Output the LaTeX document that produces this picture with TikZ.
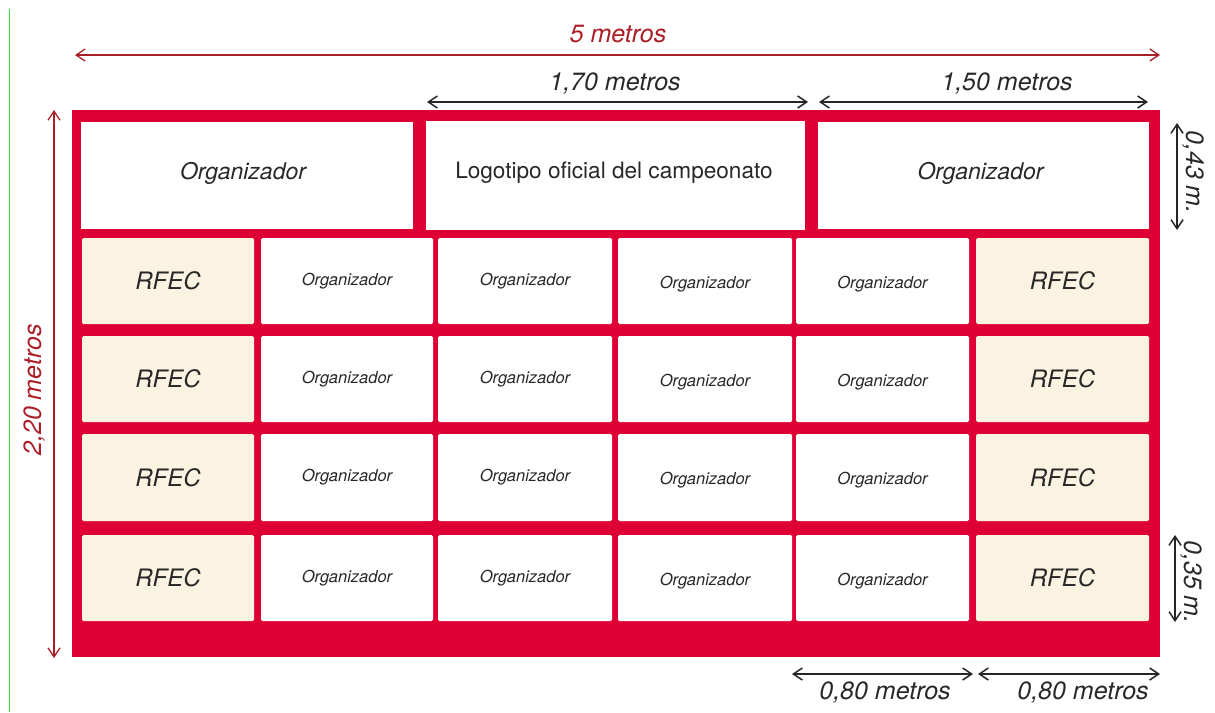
\documentclass[tikz,border=0pt]{standalone}
\usepackage{fontspec}
\setmainfont{TeX Gyre Heros}
\usetikzlibrary{arrows.meta}
\definecolor{framered}{RGB}{222,0,52}
\definecolor{dimred}{RGB}{170,30,40}
\definecolor{cream}{RGB}{251,243,225}
\definecolor{txt}{RGB}{40,40,40}
\definecolor{edgegreen}{RGB}{60,220,60}
\newcommand{\lowtext}[1]{\raisebox{-3pt}[\height][\depth]{#1}}
\tikzset{
  wcell/.style={fill=white, rounded corners=1.5pt, inner sep=0pt, text=txt, font=\fontsize{16.5}{18}\selectfont\itshape},
  rcell/.style={fill=cream, rounded corners=1.5pt, inner sep=0pt, text=txt, font=\fontsize{24}{26}\selectfont\itshape},
  topcell/.style={fill=white, inner sep=0pt, text=txt, font=\fontsize{23}{25}\selectfont\itshape},
  dimblack/.style={draw=black!85, line width=1.5pt, {Straight Barb[length=9pt,width=12pt]}-{Straight Barb[length=9pt,width=12pt]}},
  dimredarrow/.style={draw=dimred, line width=1.3pt, {Straight Barb[length=9pt,width=12pt]}-{Straight Barb[length=9pt,width=12pt]}},
  dimlabel/.style={inner sep=0pt, text=txt, font=\fontsize{25}{27}\selectfont\itshape},
  redlabel/.style={inner sep=0pt, text=dimred, font=\fontsize{25}{27}\selectfont\itshape}
}
\begin{document}
\begin{tikzpicture}[x=1pt,y=-1pt]
\useasboundingbox (0,0) rectangle (1215,712);
\fill[white] (0,0) rectangle (1215,712);
% stray left edge line
\draw[edgegreen, line width=1pt] (9,9) -- (9,712);
% red frame
\fill[framered] (72,110) rectangle (1160,657);
% top row
\node[topcell, minimum width=332pt, minimum height=107pt] (t1) at (247,175.5) {};
\node[topcell] (t1t) at (243,173) {Organizador};
\node[topcell, minimum width=379pt, minimum height=109pt] (t2) at (615.5,175.5) {};
\node[topcell, font=\fontsize{22.6}{25}\selectfont] (t2t) at (614,173) {Logotipo oficial del campeonato};
\node[topcell, minimum width=331pt, minimum height=107pt] (t3) at (983.5,175.5) {};
\node[topcell] (t3t) at (980.5,173) {Organizador};
% grid rows
\foreach \r/\y/\h in {1/281/86, 2/379/86, 3/477.5/87, 4/578/86}{
  \node[rcell, minimum width=172pt, minimum height=\h pt] (c\r1) at (168,\y) {RFEC};
  \node[wcell, minimum width=172pt, minimum height=\h pt] (c\r2) at (347,\y) {Organizador};
  \node[wcell, minimum width=174pt, minimum height=\h pt] (c\r3) at (525,\y) {Organizador};
  \node[wcell, minimum width=174pt, minimum height=\h pt] (c\r4) at (705,\y) {\lowtext{Organizador}};
  \node[wcell, minimum width=173pt, minimum height=\h pt] (c\r5) at (882.5,\y) {\lowtext{Organizador}};
  \node[rcell, minimum width=173pt, minimum height=\h pt] (c\r6) at (1062.5,\y) {RFEC};
}
% dimension coordinates
\coordinate (a5l) at (75,55);
\coordinate (a5r) at (1160,55);
\coordinate (a17l) at (427,102);
\coordinate (a17r) at (808,102);
\coordinate (a15l) at (819,102);
\coordinate (a15r) at (1148,102);
\coordinate (a43t) at (1177,123);
\coordinate (a43b) at (1177,230);
\coordinate (a35t) at (1175,535);
\coordinate (a35b) at (1175,622);
\coordinate (a8al) at (792,674);
\coordinate (a8ar) at (973,674);
\coordinate (a8bl) at (978,674);
\coordinate (a8br) at (1160,674);
\coordinate (a22t) at (54,110);
\coordinate (a22b) at (54,658);
% dimension arrows
\draw[dimredarrow] (a5l) -- (a5r);
\draw[dimblack] (a17l) -- (a17r);
\draw[dimblack] (a15l) -- (a15r);
\draw[dimblack] (a43t) -- (a43b);
\draw[dimblack] (a35t) -- (a35b);
\draw[dimblack] (a8al) -- (a8ar);
\draw[dimblack] (a8bl) -- (a8br);
\draw[dimredarrow] (a22t) -- (a22b);
% dimension labels
\node[redlabel] (l5) at (618,34) {5 metros};
\node[dimlabel] (l17) at (615,83) {1,70 metros};
\node[dimlabel] (l15) at (1007,83) {1,50 metros};
\node[dimlabel, rotate=-90] (l43) at (1193,172) {0,43 m.};
\node[dimlabel, rotate=-90] (l35) at (1191,582) {0,35 m.};
\node[dimlabel] (l8a) at (885,692) {0,80 metros};
\node[dimlabel] (l8b) at (1083,692) {0,80 metros};
\node[redlabel, rotate=90] (l22) at (34,390) {2,20 metros};
\end{tikzpicture}
\end{document}
